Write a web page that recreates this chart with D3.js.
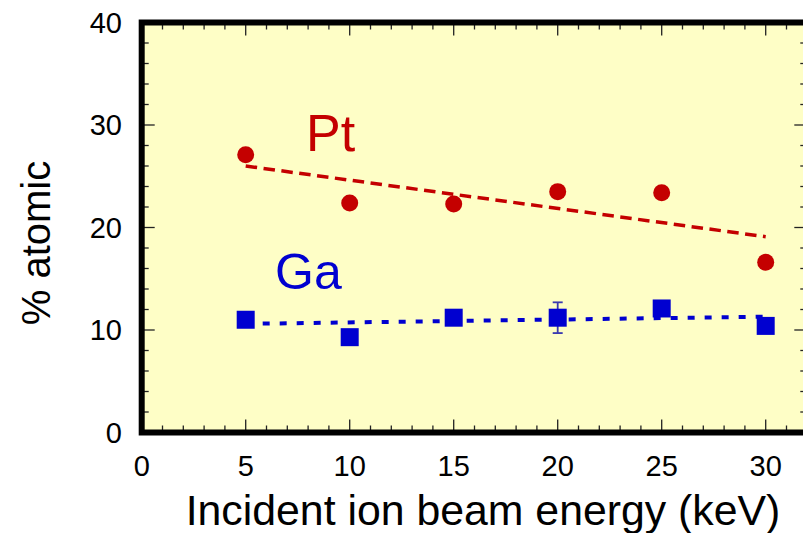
<!DOCTYPE html>
<html><head><meta charset="utf-8">
<script src="https://cdn.jsdelivr.net/npm/d3@7"></script>
<style>body{margin:0;background:#fff}svg{display:block}text{font-family:"Liberation Sans",Arial,Helvetica,sans-serif}</style>
</head><body><svg id="c" width="803" height="533"></svg>
<script>
const energies = [5, 10, 15, 20, 25, 30];
const ptValues = [27.1, 22.4, 22.3, 23.5, 23.4, 16.6];
const gaValues = [11.0, 9.3, 11.2, 11.2, 12.1, 10.4];
const gaErrors = [0, 0, 0, 1.5, 0, 0];
const ptFit = [[5, 26.0], [30, 19.1]];
const gaFit = [[5, 10.6], [30, 11.3]];
const xTicks = [0, 5, 10, 15, 20, 25, 30];
const yTicks = [0, 10, 20, 30, 40];

const svg = d3.select("#c");
const x = d3.scaleLinear().domain([0, 32]).range([141.7, 807.3]);
const y = d3.scaleLinear().domain([0, 40]).range([432.5, 22.5]);

svg.append("rect").attr("x", x(0)).attr("y", y(40)).attr("width", x(32) - x(0)).attr("height", y(0) - y(40)).attr("fill", "#fefec6");

const tickG = svg.append("g").attr("stroke", "#222").attr("stroke-width", 1.3);
d3.range(0, 33, 1).forEach(v => {
  const L = v % 5 === 0 ? 13 : 7;
  tickG.append("line").attr("x1", x(v)).attr("x2", x(v)).attr("y1", y(0)).attr("y2", y(0) - L);
  tickG.append("line").attr("x1", x(v)).attr("x2", x(v)).attr("y1", y(40)).attr("y2", y(40) + L);
});
d3.range(0, 41, 2).forEach(v => {
  const L = v % 10 === 0 ? 13 : 7;
  tickG.append("line").attr("y1", y(v)).attr("y2", y(v)).attr("x1", x(0)).attr("x2", x(0) + L);
  tickG.append("line").attr("y1", y(v)).attr("y2", y(v)).attr("x1", x(32)).attr("x2", x(32) - L);
});

const line = d3.line().x(d => x(d[0])).y(d => y(d[1]));
svg.append("path").attr("d", line(ptFit)).attr("fill", "none").attr("stroke", "#c40000").attr("stroke-width", 3.5).attr("stroke-dasharray", "11.5,6.5");
svg.append("path").attr("d", line(gaFit)).attr("fill", "none").attr("stroke", "#0000d0").attr("stroke-width", 4).attr("stroke-dasharray", "7,10");

const eb = svg.append("g").attr("stroke", "#3a3ab0").attr("stroke-width", 1.8);
energies.forEach((e, i) => {
  if (gaErrors[i] > 0) {
    const lo = y(gaValues[i] - gaErrors[i]), hi = y(gaValues[i] + gaErrors[i]);
    eb.append("line").attr("x1", x(e)).attr("x2", x(e)).attr("y1", lo).attr("y2", hi);
    eb.append("line").attr("x1", x(e) - 5).attr("x2", x(e) + 5).attr("y1", lo).attr("y2", lo);
    eb.append("line").attr("x1", x(e) - 5).attr("x2", x(e) + 5).attr("y1", hi).attr("y2", hi);
  }
});

svg.append("g").selectAll("circle").data(energies).join("circle")
  .attr("cx", d => x(d)).attr("cy", (d, i) => y(ptValues[i])).attr("r", 8.5).attr("fill", "#c40000");
svg.append("g").selectAll("rect").data(energies).join("rect")
  .attr("x", d => x(d) - 9).attr("y", (d, i) => y(gaValues[i]) - 9).attr("width", 18).attr("height", 18).attr("fill", "#0000d0");

svg.append("text").attr("x", 306).attr("y", 151).attr("font-size", 52).attr("fill", "#c40000").text("Pt");
svg.append("text").attr("x", 275).attr("y", 289).attr("font-size", 50).attr("fill", "#0000d0").text("Ga");

svg.append("rect").attr("x", x(0)).attr("y", y(40)).attr("width", x(32) - x(0)).attr("height", y(0) - y(40)).attr("fill", "none").attr("stroke", "#000").attr("stroke-width", 6);

svg.append("g").selectAll("text").data(xTicks).join("text")
  .attr("x", d => x(d)).attr("y", 476).attr("text-anchor", "middle").attr("font-size", 29).text(d => d);
svg.append("g").selectAll("text").data(yTicks).join("text")
  .attr("x", 122).attr("y", d => y(d) + 10).attr("text-anchor", "end").attr("font-size", 29).text(d => d);

svg.append("text").attr("x", 483).attr("y", 525).attr("text-anchor", "middle").attr("font-size", 42.8).text("Incident ion beam energy (keV)");
svg.append("text").attr("transform", "translate(50,243) rotate(-90)").attr("text-anchor", "middle").attr("font-size", 40).text("% atomic");
</script></body></html>
